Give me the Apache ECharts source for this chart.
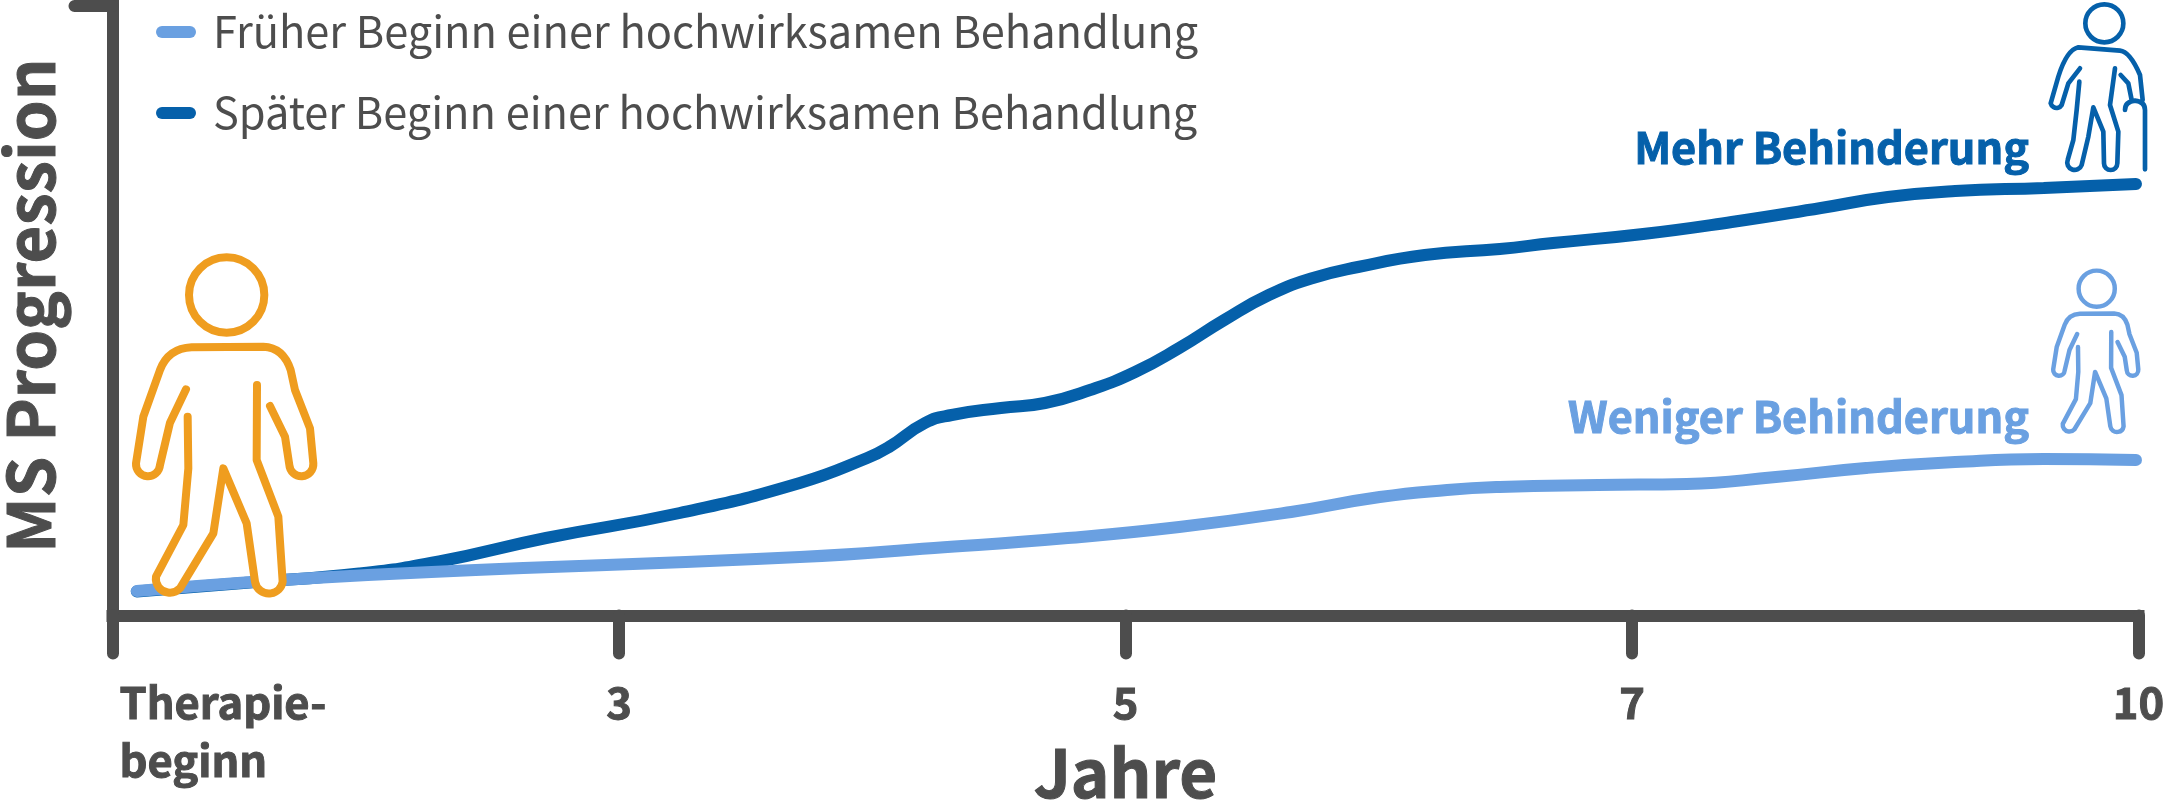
<!DOCTYPE html>
<html>
<head>
<meta charset="utf-8">
<style>
  html, body { margin: 0; padding: 0; background: #fff; }
  #chart { width: 2164px; height: 800px; }
</style>
<script src="https://cdn.jsdelivr.net/npm/echarts@6/dist/echarts.min.js"></script>
</head>
<body>
<div id="chart"></div>
<script>
// Ticks are evenly spaced in the picture even though the years are not
const tickLabels = ['Therapie-\nbeginn', '3', '5', '7', '10'];

const seriesNames = [
  'Früher Beginn einer hochwirksamen Behandlung',
  'Später Beginn einer hochwirksamen Behandlung'
];

// x = position along the tick scale (0..4), y = height
const earlyX = [0.048, 0.504, 1.357, 1.622, 1.886, 2.106, 2.327, 2.502, 2.635, 2.739, 2.933, 3.108, 3.284, 3.462, 3.638, 3.813, 3.995];
const earlyY = [24.5, 40.5, 58.5, 67.5, 77.5, 88.5, 103.5, 118.5, 125.5, 128.5, 130.5, 131.5, 138.5, 147.5, 153.5, 156.5, 155.5];

const lateX = [0.048, 0.271, 0.487, 0.645, 0.856, 1.120, 1.357, 1.490, 1.533, 1.604, 1.657, 1.754, 1.841, 1.930, 2.019, 2.106, 2.195, 2.283, 2.370, 2.459, 2.591, 2.739, 2.844, 3.022, 3.197, 3.373, 3.505, 3.638, 3.813, 3.995];
const lateY = [24, 33, 42, 54, 77.5, 102.5, 132.5, 157.5, 168.5, 192.5, 200.5, 207.5, 212.5, 225.5, 243.5, 267.5, 295.5, 320.5, 337.5, 348.5, 360.5, 366.5, 372.5, 381.5, 393.5, 407.5, 418.5, 424.5, 427.5, 431.5];

const GRAY = '#4d4d4d';
const LIGHT = '#6aa0e1';
const DARK = '#0560aa';
const ORANGE = '#ef9d1f';
const FONT = '"Noto Sans CJK SC", "Noto Sans", sans-serif';

// person icons
const walkerHead = 'M793 225 A113 113 0 1 1 567 225 A113 113 0 1 1 793 225 Z';
const walkerBody = 'M558 508 L510 608 L480 735 A36 36 0 0 1 408 730 L430 590 L480 450 Q505 385 575 382 L790 380 Q850 382 872 450 L885 510 L930 625 L940 730 A36 36 0 0 1 868 735 L855 650 L810 558 '
  + 'M563 590 L565 745 L550 915 L468 1070 A42 42 0 0 0 540 1105 L640 940 L670 745 L740 910 L765 1085 A42 42 0 0 0 848 1085 L835 890 L770 720 L771 495';
const caneHead = 'M490 70 A57 57 0 1 1 376 70 A57 57 0 1 1 490 70 Z';
const caneBody = 'M360 205 L325 250 L305 315 A18 18 0 0 1 272 310 L295 230 Q320 150 355 142 L480 152 Q510 155 540 225 L548 300 '
  + 'M482 225 L505 250 L515 300 M495 330 Q495 305 525 302 Q555 305 555 330 L555 508 '
  + 'M358 245 L350 330 L340 420 L323 480 A22 22 0 0 0 365 495 L385 410 L400 322 L430 395 L432 490 A20 20 0 0 0 472 490 L475 395 L450 315 L465 205';

function icon(pathData, x, y, scale, color, width) {
  return {
    type: 'path',
    x: x, y: y, scaleX: scale, scaleY: scale,
    shape: { pathData: pathData },
    style: { fill: '#fff', stroke: color, lineWidth: width, lineCap: 'round', lineJoin: 'round' }
  };
}

function note(text, y, color) {
  return {
    type: 'text', x: 2029, y: y, z: 10,
    style: { text: text, fill: color, stroke: color, lineWidth: 1, font: '700 43.3px ' + FONT, textAlign: 'right', textVerticalAlign: 'bottom' }
  };
}

// the bold text in the picture is a little heavier than the installed bold
const heavy = { color: GRAY, fontWeight: 700, fontFamily: FONT, textBorderColor: GRAY, textBorderWidth: 1 };

const chart = echarts.init(document.getElementById('chart'));
chart.setOption({
  animation: false,
  backgroundColor: '#fff',
  textStyle: { fontFamily: FONT },
  grid: { left: 112.5, right: 25.5, top: 6, bottom: 184.5, outerBoundsMode: 'none' },
  legend: {
    orient: 'vertical',
    left: 156,
    top: 3,
    padding: 0,
    icon: 'path://M6 0 L34 0 A6 6 0 0 1 34 12 L6 12 A6 6 0 0 1 6 0 Z',
    itemWidth: 40,
    itemHeight: 12,
    itemGap: 23,
    data: seriesNames,
    textStyle: { color: GRAY, fontSize: 43.3, lineHeight: 58, fontFamily: FONT, padding: [0, 0, 0, 12] }
  },
  xAxis: {
    type: 'value',
    min: 0,
    max: 4,
    interval: 1,
    name: 'Jahre',
    nameLocation: 'middle',
    nameGap: 125,
    nameMoveOverlap: false,
    nameTextStyle: { ...heavy, fontSize: 65.5 },
    axisLine: { lineStyle: { color: GRAY, width: 12, cap: 'square' } },
    axisTick: { length: 38, lineStyle: { color: GRAY, width: 12, cap: 'round' } },
    splitLine: { show: false },
    axisLabel: {
      ...heavy,
      margin: 58,
      fontSize: 43.5,
      lineHeight: 58,
      alignMinLabel: 'left',
      verticalAlign: 'top',
      hideOverlap: false,
      rich: { first: { ...heavy, fontSize: 43.5, lineHeight: 58, padding: [0, 0, 0, 7] } },
      formatter: (v) => v === 0
        ? tickLabels[0].split('\n').map((t) => '{first|' + t + '}').join('\n')
        : tickLabels[v]
    }
  },
  yAxis: {
    type: 'value',
    min: 0,
    max: 609.5,
    name: 'MS Progression',
    nameLocation: 'middle',
    nameRotate: 90,
    nameGap: 50,
    nameMoveOverlap: false,
    nameTextStyle: { ...heavy, fontSize: 65.2, padding: [0, 0, 0, 10] },
    axisLine: { show: true, lineStyle: { color: GRAY, width: 12, cap: 'square' } },
    axisTick: { show: true, length: 38, customValues: [609.5], lineStyle: { color: GRAY, width: 12, cap: 'round' } },
    axisLabel: { show: false },
    splitLine: { show: false }
  },
  series: [
    {
      name: seriesNames[1],
      type: 'line',
      smooth: 0.5,
      showSymbol: false,
      symbol: 'none',
      lineStyle: { color: DARK, width: 12, cap: 'round' },
      itemStyle: { color: DARK },
      data: lateX.map((x, i) => [x, lateY[i]])
    },
    {
      name: seriesNames[0],
      type: 'line',
      smooth: 0.5,
      showSymbol: false,
      symbol: 'none',
      lineStyle: { color: LIGHT, width: 12, cap: 'round' },
      itemStyle: { color: LIGHT },
      data: earlyX.map((x, i) => [x, earlyY[i]])
    },
    {
      // the three figures
      name: 'icons',
      type: 'custom',
      coordinateSystem: 'none',
      silent: true,
      z: 10,
      clip: false,
      data: [0],
      renderItem: () => ({
        type: 'group',
        children: [
          icon(walkerHead, 0, 220, 1 / 3, ORANGE, 24),
          icon(walkerBody, 0, 220, 1 / 3, ORANGE, 24),
          icon(walkerHead, 1987.9, 252.7, 0.16, LIGHT, 28),
          icon(walkerBody, 1987.9, 252.7, 0.16, LIGHT, 28),
          icon(caneHead, 1960, 0, 1 / 3, DARK, 14),
          icon(caneBody, 1960, 0, 1 / 3, DARK, 14)
        ]
      })
    }
  ],
  graphic: [
    note('Mehr Behinderung', 169, DARK),
    note('Weniger Behinderung', 438, LIGHT)
  ]
});

window.addEventListener('resize', () => {
  chart.resize();
});
</script>
</body>
</html>
